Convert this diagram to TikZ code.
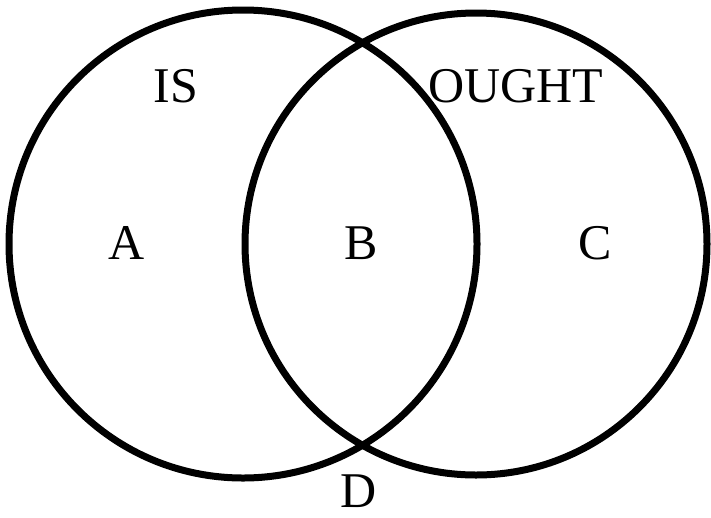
\documentclass[tikz,border=0pt]{standalone}
\usepackage{fontspec}
\setmainfont{Liberation Serif}
\tikzset{
    lab/.style={
        font=\fontsize{50}{60}\selectfont
    }
}

\begin{document}
\begin{tikzpicture}[x=1pt,y=-1pt, line cap=round, line join=round]

\tikzset{
  ring/.style={draw=black, line width=7pt},
  reg/.style={lab, anchor=base, inner sep=0pt},
}

\useasboundingbox (0,0) rectangle (711,517);

\coordinate (IsC) at (243,244);
\coordinate (OughtC) at (476,244);

% the two sets
\draw[ring] (IsC) circle[radius=234pt];
\draw[ring] (OughtC) circle[radius=231pt];

% set names
\node[reg] (is) at (176,102) {IS};
\node[reg] (ought) at (516,102) {OUGHT};

% regions
\node[reg] (a) at (127,259) {A};
\node[reg] (b) at (361,259) {B};
\node[reg] (c) at (595,259) {C};
\node[reg] (d) at (359,507) {D};

\end{tikzpicture}
\end{document}
